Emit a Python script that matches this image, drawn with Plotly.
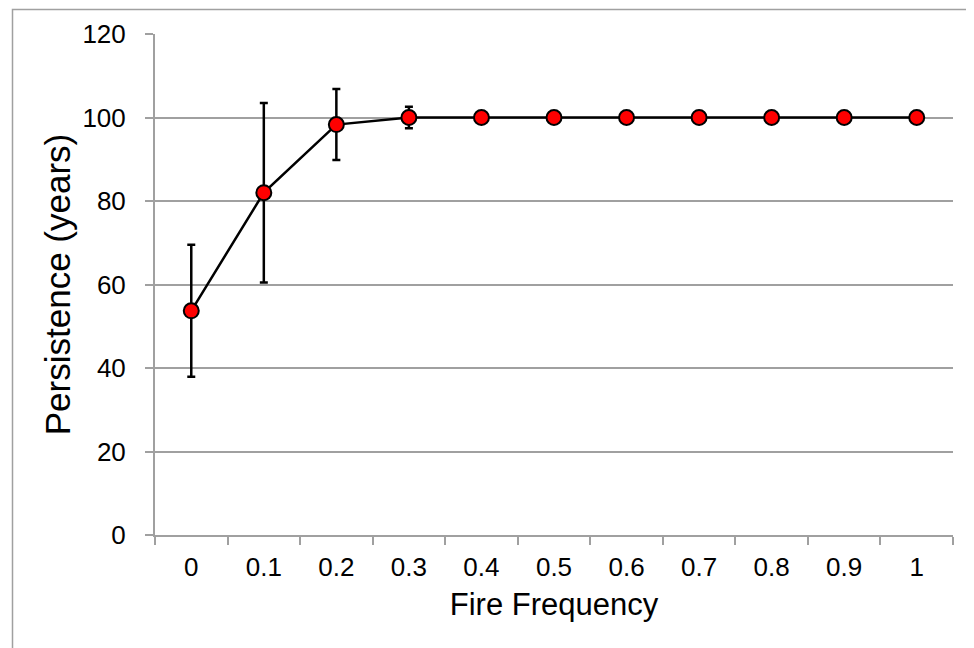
import plotly.graph_objects as go

categories = ["0", "0.1", "0.2", "0.3", "0.4", "0.5", "0.6", "0.7", "0.8", "0.9", "1"]
persistence = [53.7, 82.0, 98.3, 100.0, 100.0, 100.0, 100.0, 100.0, 100.0, 100.0, 100.0]
error = [15.8, 21.5, 8.5, 2.6, None, None, None, None, None, None, None]
y_ticks = [0, 20, 40, 60, 80, 100, 120]

# page body has an 8px margin; figure sized so that it fills the 974x648 window
OFF = 8
W, H = 974 - OFF, 648 - OFF
L, R, T, B = 155 - OFF, 21, 34 - OFF, 113
pw, ph = W - L - R, H - T - B

grid = "#a0a0a0"
font = "Liberation Sans, Arial, sans-serif"

fig = go.Figure()
fig.add_trace(go.Scatter(
    x=categories, y=persistence, mode="lines+markers",
    line=dict(color="black", width=2.5),
    marker=dict(color="#ff0000", size=15, line=dict(color="black", width=2)),
    error_y=dict(type="data", array=error, visible=True, color="black", thickness=2.5, width=4),
    showlegend=False,
))

fig.update_layout(
    width=W, height=H,
    margin=dict(l=L, r=R, t=T, b=B),
    paper_bgcolor="white", plot_bgcolor="white",
    font=dict(family=font, color="black"),
    xaxis=dict(
        type="category", range=[-0.5, len(categories) - 0.5],
        tickson="boundaries", ticks="outside", ticklen=8,
        tickcolor=grid, tickwidth=2, showline=True, linecolor=grid, linewidth=2,
        showgrid=False, tickfont=dict(size=26), ticklabelstandoff=8,
        title=dict(text="Fire Frequency", font=dict(size=31), standoff=12),
    ),
    yaxis=dict(
        range=[0, 120], tickvals=y_ticks, ticks="outside", ticklen=8,
        tickcolor=grid, tickwidth=2, showline=True, linecolor=grid, linewidth=2,
        showgrid=True, gridcolor=grid, gridwidth=2, zeroline=False,
        tickfont=dict(size=26), ticklabelstandoff=14,
        title=dict(text="Persistence (years)", font=dict(size=35), standoff=1),
    ),
    shapes=[dict(
        type="rect", xref="paper", yref="paper",
        x0=(12.5 - 155) / pw, x1=(990 - 155) / pw,
        y0=(535 - 670) / ph, y1=(535 - 9.5) / ph,
        line=dict(color=grid, width=1.5), fillcolor="rgba(0,0,0,0)", layer="below",
    )],
)

fig.write_html("out.html")
